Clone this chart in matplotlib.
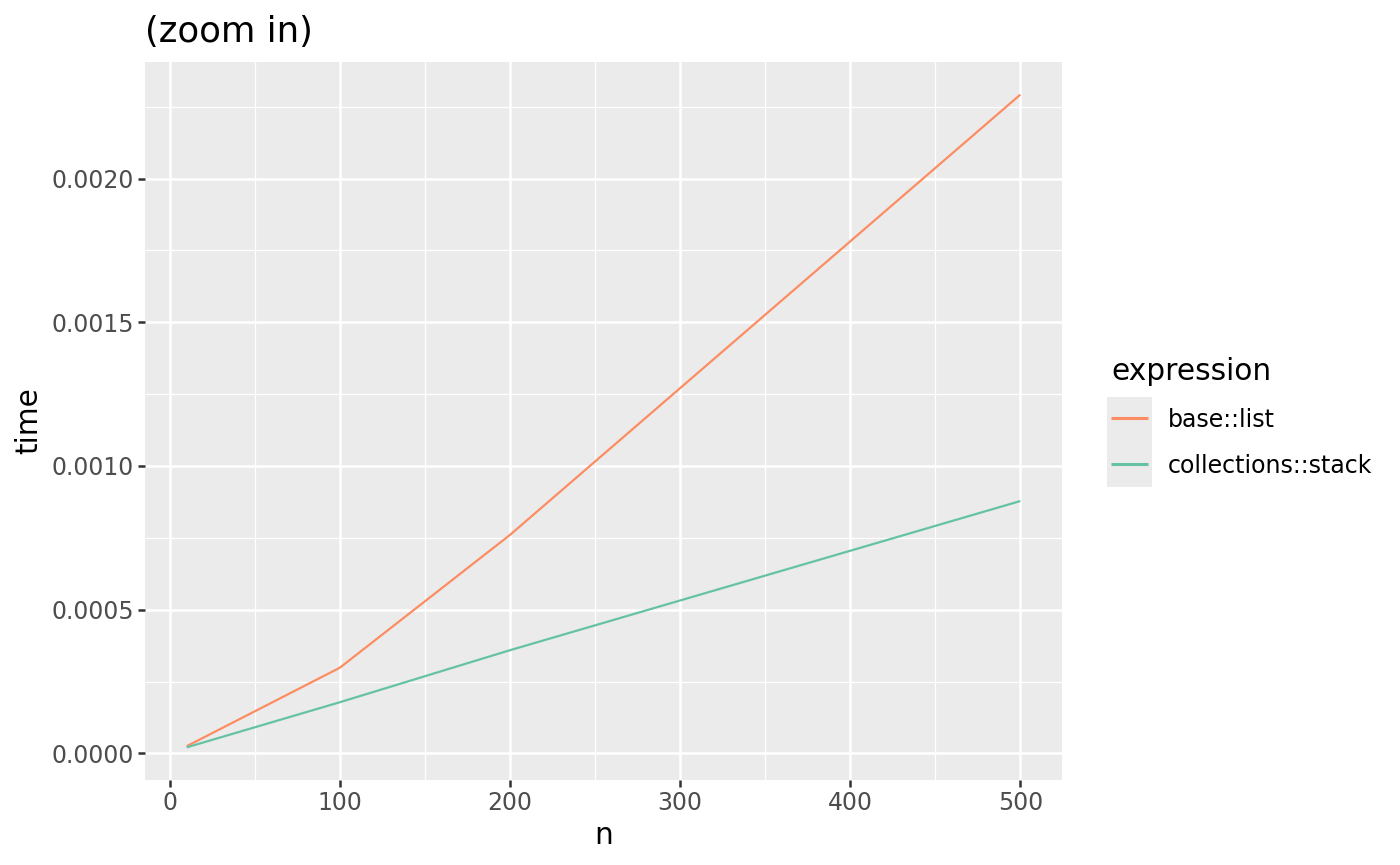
import matplotlib
matplotlib.use("Agg")
import matplotlib.pyplot as plt
from matplotlib.patches import Rectangle
from matplotlib.ticker import MultipleLocator, FuncFormatter

n_values = [10, 100, 200, 500]
base_list = [0.000025, 0.000298, 0.000760, 0.002292]
collections_stack = [0.000021, 0.000178, 0.000359, 0.000878]
series_names = ["base::list", "collections::stack"]
series_colors = ["#FC8D62", "#66C2A5"]

plt.rcParams['font.family'] = ['DejaVu Sans']

BASE = 21.3
fig = plt.figure(figsize=(14, 8.65), dpi=100)
W, H = 1400, 865
ax = fig.add_axes([145 / W, 1 - 780 / H, (1062 - 145) / W, (780 - 62) / H])
ax.set_facecolor("#EBEBEB")

for vals, name, col in zip([base_list, collections_stack], series_names, series_colors):
    ax.plot(n_values, vals, color=col, lw=1.6, label=name, solid_capstyle='butt')

xr = max(n_values) - min(n_values)
ax.set_xlim(min(n_values) - 0.05 * xr, max(n_values) + 0.05 * xr)
ally = base_list + collections_stack
yr = max(ally) - min(ally)
ax.set_ylim(min(ally) - 0.05 * yr, max(ally) + 0.05 * yr)

ax.xaxis.set_major_locator(MultipleLocator(100))
ax.xaxis.set_minor_locator(MultipleLocator(50))
ax.yaxis.set_major_locator(MultipleLocator(0.0005))
ax.yaxis.set_minor_locator(MultipleLocator(0.00025))
ax.yaxis.set_major_formatter(FuncFormatter(lambda v, p: f"{v:.4f}"))

ax.grid(which='major', color='white', lw=1.8)
ax.grid(which='minor', color='white', lw=0.9)
ax.set_axisbelow(True)
for s in ax.spines.values():
    s.set_visible(False)
ax.tick_params(which='major', length=5, width=1.8, color='#333333',
               labelcolor='#4D4D4D', labelsize=BASE * 0.8, pad=3)
ax.tick_params(which='minor', length=0)

ax.set_xlabel("n", fontsize=BASE, labelpad=4)
ax.set_ylabel("time", fontsize=BASE, labelpad=6)
fig.text(145 / W, 1 - 32 / H, "(zoom in)", fontsize=BASE * 1.2, ha='left', va='center')

# legend key background
fig.patches.append(Rectangle((1107 / W, 1 - 487 / H), 45 / W, 90 / H,
                             transform=fig.transFigure, facecolor="#EBEBEB",
                             edgecolor='none', zorder=0))
leg = fig.legend(loc='upper left', bbox_to_anchor=(1111 / W, 1 - 357 / H),
                 title="expression", frameon=False, fontsize=BASE * 0.8,
                 title_fontsize=BASE, handlelength=1.55, handletextpad=0.84,
                 labelspacing=0.92, borderaxespad=0, borderpad=0)
leg._legend_box.align = "left"
for line in leg.get_lines():
    line.set_linewidth(2.2)

fig.savefig("out.png", dpi=100)
